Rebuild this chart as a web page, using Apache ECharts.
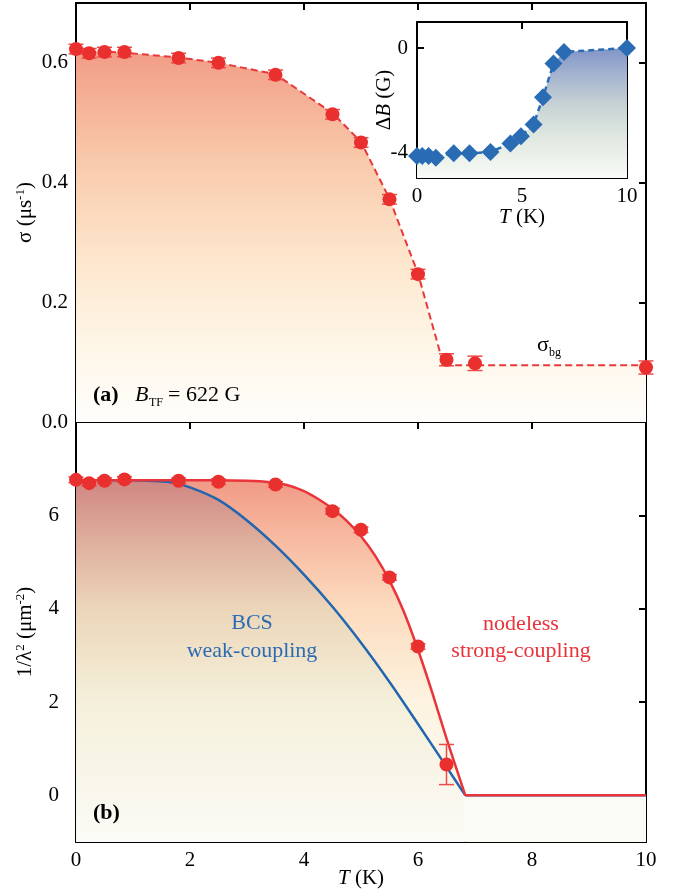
<!DOCTYPE html>
<html>
<head>
<meta charset="utf-8">
<script src="https://cdn.jsdelivr.net/npm/echarts@6/dist/echarts.min.js"></script>
<style>
  html, body { margin: 0; padding: 0; background: #fff; }
  #chart { width: 688px; height: 890px; }
</style>
</head>
<body>
<div id="chart"></div>
<script>
// (a) muon depolarization rate
const tempA = [0, 0.23, 0.5, 0.85, 1.8, 2.5, 3.5, 4.5, 5.0, 5.5, 6.0, 6.5, 7.0, 10.0];
const sigma = [0.623, 0.616, 0.618, 0.618, 0.608, 0.600, 0.580, 0.514, 0.467, 0.372, 0.247, 0.104, 0.098, 0.091];
const sigmaErr = [0.008, 0.008, 0.008, 0.008, 0.008, 0.008, 0.008, 0.008, 0.008, 0.008, 0.008, 0.010, 0.012, 0.011];
const fitTempA = [0, 0.5, 0.85, 1.8, 2.5, 3.5, 4.5, 5.0, 5.5, 6.0, 6.45, 7.0, 10.0];
const fitSigma = [0.620, 0.619, 0.617, 0.609, 0.600, 0.581, 0.516, 0.468, 0.373, 0.248, 0.095, 0.095, 0.095];

// inset: diamagnetic shift
const tempInset = [0, 0.25, 0.55, 0.9, 1.75, 2.5, 3.5, 4.45, 4.95, 5.55, 6.0, 6.5, 7.0, 10.0];
const deltaB = [-4.15, -4.15, -4.15, -4.22, -4.05, -4.05, -4.0, -3.67, -3.39, -2.94, -1.89, -0.6, -0.15, 0];

// (b) superfluid density
const tempB = [0, 0.23, 0.5, 0.85, 1.8, 2.5, 3.5, 4.5, 5.0, 5.5, 6.0, 6.5];
const invLambda2 = [6.76, 6.69, 6.74, 6.77, 6.74, 6.72, 6.66, 6.09, 5.69, 4.67, 3.19, 0.66];
const invLambda2Err = [0.06, 0.06, 0.06, 0.06, 0.06, 0.06, 0.06, 0.06, 0.06, 0.06, 0.06, 0.43];
// fits below Tc
const strongT = [0, 1, 2, 2.5, 3.0, 3.4, 3.7, 4.0, 4.25, 4.5, 4.75, 5.0, 5.25, 5.5, 5.75, 6.0, 6.25, 6.5, 6.83];
const strongV = [6.75, 6.75, 6.75, 6.75, 6.74, 6.71, 6.65, 6.52, 6.35, 6.14, 5.88, 5.55, 5.13, 4.60, 3.94, 3.12, 2.20, 1.22, 0];
const bcsT = [0, 1.0, 1.25, 1.65, 2.0, 2.5, 3.0, 3.5, 4.0, 4.5, 5.0, 5.5, 6.0, 6.5, 6.83];
const bcsV = [6.75, 6.75, 6.74, 6.71, 6.60, 6.33, 5.89, 5.35, 4.73, 4.04, 3.27, 2.43, 1.53, 0.61, 0];
// normal state above Tc
const normalT = [6.83, 10];
const normalV = [0, 0];

const FONT = "Liberation Serif";
const RED = "#ea2f2f";
const BLUE = "#2a6cb4";

const pairs = (xs, ys) => xs.map((x, i) => [x, ys[i]]);
const triples = (xs, ys, es) => xs.map((x, i) => [x, ys[i], es[i]]);

const grad = (stops) => ({
  type: "linear", x: 0, y: 0, x2: 0, y2: 1,
  colorStops: stops.map(([o, c]) => ({ offset: o, color: c })),
});

// one side of a framed box
function axis(grid, pos, min, max, opts) {
  opts = opts || {};
  const a = {
    gridIndex: grid,
    position: pos,
    min: min,
    max: max,
    splitLine: { show: false },
    axisLine: { onZero: false, lineStyle: { color: "#000", width: 2 } },
    axisTick: { inside: true, length: 7, lineStyle: { color: "#000", width: 2 } },
    axisLabel: { show: !!opts.labels, margin: opts.margin || 8, color: "#000", fontFamily: FONT, fontSize: 21 },
  };
  if (opts.interval) a.interval = opts.interval;
  if (opts.ticks) {
    a.axisTick.customValues = opts.ticks;
    a.axisLabel.customValues = opts.ticks;
  }
  if (opts.formatter) a.axisLabel.formatter = opts.formatter;
  if (opts.name) {
    a.name = opts.name;
    a.nameLocation = "middle";
    a.nameGap = opts.nameGap;
    a.nameMoveOverlap = false;
    a.nameRotate = opts.nameRotate || 0;
    a.nameTextStyle = {
      color: "#000",
      rich: {
        n: { fontFamily: FONT, fontSize: 21, color: "#000" },
        i: { fontFamily: FONT, fontSize: 21, fontStyle: "italic", color: "#000" },
        sup: { fontFamily: FONT, fontSize: 13, color: "#000", padding: [0, 0, 10, 0] },
      },
    };
  }
  return a;
}

function errorBars(xi, yi, data, color) {
  return {
    type: "custom",
    xAxisIndex: xi,
    yAxisIndex: yi,
    data: data,
    z: 3,
    renderItem: (params, api) => {
      const x = api.value(0), y = api.value(1), e = api.value(2);
      const top = api.coord([x, y + e]);
      const bot = api.coord([x, y - e]);
      const w = 7.5;
      const style = { stroke: color, lineWidth: 1.5 };
      return {
        type: "group",
        children: [
          { type: "line", shape: { x1: top[0], y1: top[1], x2: bot[0], y2: bot[1] }, style: style },
          { type: "line", shape: { x1: top[0] - w, y1: top[1], x2: top[0] + w, y2: top[1] }, style: style },
          { type: "line", shape: { x1: bot[0] - w, y1: bot[1], x2: bot[0] + w, y2: bot[1] }, style: style },
        ],
      };
    },
  };
}

function text(x, y, str, extra) {
  return {
    type: "text", x: x, y: y, z: 100,
    style: Object.assign({ text: str, fontFamily: FONT, fontSize: 22, fill: "#000", align: "left", verticalAlign: "middle" }, extra || {}),
  };
}

function fitLine(data, color, z, area, smooth) {
  const s = {
    type: "line",
    xAxisIndex: 2, yAxisIndex: 2,
    data: data,
    symbol: "none",
    smooth: smooth,
    z: z,
    lineStyle: color ? { color: color, width: 2.5 } : { width: 0 },
  };
  if (area) s.areaStyle = { origin: "start", opacity: 1, color: area };
  return s;
}

const chart = echarts.init(document.getElementById("chart"));

const strongFill = grad([[0, "#f09a86"], [0.12, "#f6b29a"], [0.35, "#fcdbbe"], [0.61, "#fdf3e0"], [1, "#fbfbf7"]]);
const bcsFill = grad([[0, "rgba(120,80,120,0.27)"], [0.35, "rgba(140,180,160,0.15)"], [0.61, "rgba(150,200,150,0.08)"], [1, "rgba(150,200,150,0)"]]);

const option = {
  animation: false,
  textStyle: { fontFamily: FONT },
  grid: [
    { left: 76, top: 3, width: 570, height: 419, outerBoundsMode: "none" },
    { left: 76, top: 422, width: 570, height: 420, outerBoundsMode: "none" },
    { left: 417, top: 22, width: 210, height: 156, outerBoundsMode: "none" },
  ],
  xAxis: [
    axis(0, "bottom", 0, 10, { interval: 2 }),
    axis(0, "top", 0, 10, { interval: 2 }),
    axis(1, "bottom", 0, 10, { interval: 2, labels: true, margin: 8, name: "{i|T}{n| (K)}", nameGap: 26 }),
    axis(1, "top", 0, 10, { interval: 2 }),
    axis(2, "bottom", 0, 10, { interval: 5, labels: true, name: "{i|T}{n| (K)}", nameGap: 29 }),
    axis(2, "top", 0, 10, { interval: 5 }),
  ],
  yAxis: [
    axis(0, "left", 0, 0.7, {
      ticks: [0, 0.2, 0.4, 0.6], labels: true, formatter: (v) => v.toFixed(1),
      name: "{n|σ (μs}{sup|-1}{n|)}", nameGap: 39, nameRotate: 90,
    }),
    axis(0, "right", 0, 0.7, { ticks: [0, 0.2, 0.4, 0.6] }),
    axis(1, "left", -1, 8, {
      ticks: [0, 2, 4, 6], labels: true, margin: 17,
      name: "{n|1/λ}{sup|2}{n| (μm}{sup|-2}{n|)}", nameGap: 39, nameRotate: 90,
    }),
    axis(1, "right", -1, 8, { ticks: [0, 2, 4, 6] }),
    axis(2, "left", -5, 1, {
      ticks: [-4, 0], labels: true, margin: 9,
      name: "{n|Δ}{i|B}{n| (G)}", nameGap: 22, nameRotate: 90,
    }),
    axis(2, "right", -5, 1, { ticks: [-4, 0] }),
  ],
  series: [
    // (a)
    {
      type: "line",
      xAxisIndex: 0, yAxisIndex: 0,
      data: pairs(fitTempA, fitSigma),
      symbol: "none",
      z: 2,
      lineStyle: { color: "#e8383a", width: 2, type: [7, 4] },
      areaStyle: {
        origin: "start",
        opacity: 1,
        color: grad([[0, "#f29c86"], [0.3, "#f9caac"], [0.55, "#fde5cb"], [0.78, "#fef5e6"], [1, "#fffefc"]]),
      },
    },
    errorBars(0, 0, triples(tempA, sigma, sigmaErr), "#ef4a4a"),
    {
      type: "scatter",
      xAxisIndex: 0, yAxisIndex: 0,
      data: pairs(tempA, sigma),
      symbol: "circle",
      symbolSize: 14,
      z: 4,
      itemStyle: { color: RED, opacity: 1 },
    },
    // inset
    {
      type: "line",
      xAxisIndex: 4, yAxisIndex: 4,
      data: pairs(tempInset, deltaB),
      symbol: "diamond",
      symbolSize: 18,
      z: 4,
      itemStyle: { color: BLUE, opacity: 1 },
      lineStyle: { color: BLUE, width: 2.5, type: [6, 4] },
      areaStyle: {
        origin: "start",
        opacity: 1,
        color: grad([[0, "#8094c8"], [0.2, "#a4b3cf"], [0.45, "#c8d4d5"], [0.7, "#e1e9e1"], [1, "#f8fbf7"]]),
      },
    },
    // (b) fills, then lines
    fitLine(pairs(strongT, strongV), null, 1, strongFill, 0.3),
    fitLine(pairs(normalT, normalV), null, 1, "#fbfbf6", false),
    fitLine(pairs(bcsT, bcsV), "#2166ae", 2, bcsFill, 0.3),
    fitLine(pairs(normalT, normalV), "#2166ae", 2, null, false),
    fitLine(pairs(strongT, strongV), "#e8343a", 2, null, 0.3),
    fitLine(pairs(normalT, normalV), "#e8343a", 2, null, false),
    errorBars(2, 2, triples(tempB, invLambda2, invLambda2Err), "#ef4a4a"),
    {
      type: "scatter",
      xAxisIndex: 2, yAxisIndex: 2,
      data: pairs(tempB, invLambda2),
      symbol: "circle",
      symbolSize: 14,
      z: 4,
      itemStyle: { color: RED, opacity: 1 },
    },
  ],
  graphic: [
    text(93, 395, "(a)", { fontWeight: "bold" }),
    text(135, 395, "B", { fontStyle: "italic" }),
    text(149, 403, "TF", { fontSize: 12 }),
    text(168, 395, "= 622 G"),
    text(537, 345, "σ"),
    text(549, 353, "bg", { fontSize: 12 }),
    text(93, 813, "(b)", { fontWeight: "bold" }),
    text(252, 623, "BCS", { fill: BLUE, align: "center" }),
    text(252, 651, "weak-coupling", { fill: BLUE, align: "center" }),
    text(521, 624, "nodeless", { fill: "#e8343a", align: "center" }),
    text(521, 651, "strong-coupling", { fill: "#e8343a", align: "center" }),
  ],
};

chart.setOption(option);
</script>
</body>
</html>
